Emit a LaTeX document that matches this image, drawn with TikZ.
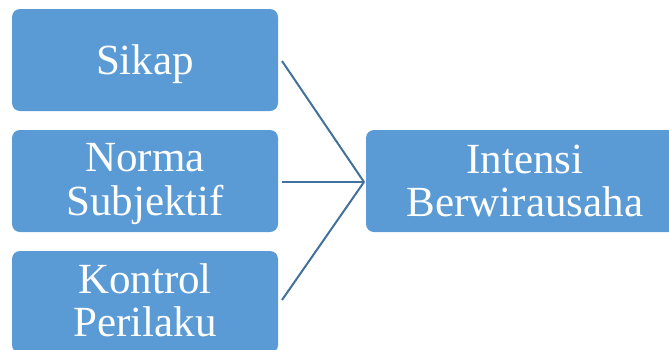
\documentclass[tikz,border=0pt]{standalone}
\usepackage{fontspec}
\setmainfont{Liberation Serif}
\definecolor{boxblue}{HTML}{5B9BD5}
\definecolor{linkblue}{HTML}{41719C}
\begin{document}
\begin{tikzpicture}[x=1pt,y=-1pt,
  blk/.style={rectangle, rounded corners=8pt, fill=boxblue, draw=none, inner sep=0pt},
  txt/.style={anchor=base, text=white, inner sep=0pt, font=\fontsize{43}{44}\selectfont},
  link/.style={draw=linkblue, line width=2pt}]
\useasboundingbox (0,0) rectangle (669,349);
\clip (0,0) rectangle (669,349);
\node[blk, minimum width=266pt, minimum height=102pt] (sikap) at (145,60) {};
\node[blk, minimum width=266pt, minimum height=102pt] (norma) at (145,181) {};
\node[blk, minimum width=266pt, minimum height=102pt] (kontrol) at (145,302) {};
\node[blk, minimum width=320pt, minimum height=102pt] (intensi) at (526,181) {};
\node[txt] (t1) at (145,74) {Sikap};
\node[txt] (t2) at (145,171.5) {Norma};
\node[txt] (t3) at (145,215.5) {Subjektif};
\node[txt] (t4) at (145,293) {Kontrol};
\node[txt] (t5) at (145,336) {Perilaku};
\node[txt] (t6) at (525,173) {Intensi};
\node[txt] (t7) at (525,216) {Berwirausaha};
\coordinate (hub) at (364,182);
\coordinate (s1) at (282,61);
\coordinate (s2) at (282,182);
\coordinate (s3) at (282,300);
\draw[link] (s1) -- (hub);
\draw[link] (s2) -- (hub);
\draw[link] (s3) -- (hub);
\end{tikzpicture}
\end{document}
